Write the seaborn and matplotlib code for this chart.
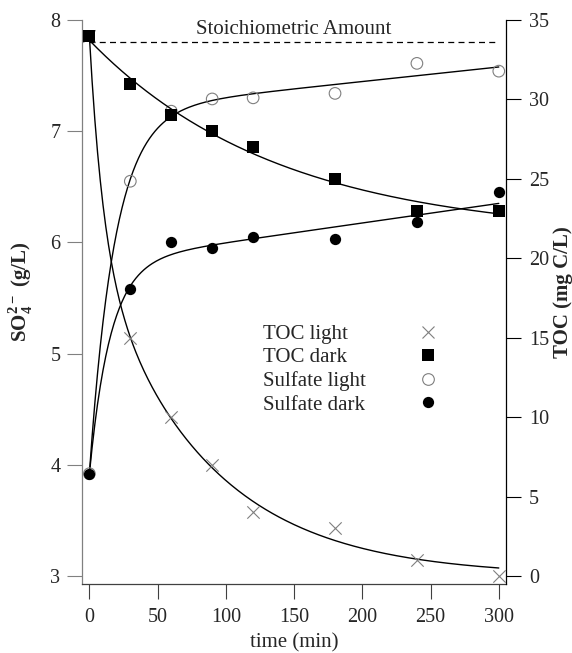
import numpy as np
import matplotlib
matplotlib.use("Agg")
import matplotlib.pyplot as plt
import seaborn as sns
from matplotlib.lines import Line2D

# Datos
tiempo = [0, 30, 60, 90, 120, 180, 240, 300]
toc_luz = [34.0, 15.0, 10.0, 7.0, 4.0, 3.0, 1.0, 0.0]
toc_oscuro = [34.0, 31.0, 29.0, 28.0, 27.0, 25.0, 23.0, 23.0]
sulfato_luz = [3.92, 6.55, 7.18, 7.29, 7.30, 7.34, 7.61, 7.54]
sulfato_oscuro = [3.92, 5.58, 6.00, 5.95, 6.05, 6.03, 6.18, 6.45]
estequiometrico = 7.8

nombres = ['TOC light', 'TOC dark', 'Sulfate light', 'Sulfate dark']
ticks_x = [0, 50, 100, 150, 200, 250, 300]
ticks_so4 = [3, 4, 5, 6, 7, 8]
ticks_toc = [0, 5, 10, 15, 20, 25, 30, 35]


def ajustar(t, y, base, rejilla):
    """Ajuste por minimos cuadrados (busqueda en rejilla para las constantes)"""
    t = np.asarray(t, float)
    y = np.asarray(y, float)
    mejor = None
    for k in rejilla:
        A = base(t, k)
        coef, *_ = np.linalg.lstsq(A, y, rcond=None)
        err = np.sum((A @ coef - y) ** 2)
        if mejor is None or err < mejor[0]:
            mejor = (err, k, coef)
    _, k, coef = mejor
    return lambda tt: base(np.asarray(tt, float), k) @ coef


def base_decaimiento_doble(t, k):
    return np.column_stack([np.exp(-k[0] * t), np.exp(-k[1] * t)])


def base_decaimiento(t, k):
    return np.column_stack([np.ones_like(t), np.exp(-k * t)])


def base_subida(t, k):
    return np.column_stack([np.ones_like(t), 1 - np.exp(-k * t), t])


def main():
    sns.set_style('ticks')
    plt.rcParams['font.family'] = ['Liberation Serif', 'DejaVu Serif']
    plt.rcParams['mathtext.fontset'] = 'custom'
    plt.rcParams['mathtext.rm'] = 'Liberation Serif'
    plt.rcParams['mathtext.bf'] = 'Liberation Serif:bold'

    fig = plt.figure(figsize=(5.72, 6.53), dpi=100)
    ax = fig.add_axes([82 / 572, 1 - 584 / 653, 424.3 / 572, 564 / 653])
    ax2 = ax.twinx()

    # curvas ajustadas
    rejilla_doble = [(k1, k2) for k1 in np.geomspace(0.03, 0.3, 50)
                     for k2 in np.geomspace(0.002, 0.03, 50)]
    f_toc_luz = ajustar(tiempo, toc_luz, base_decaimiento_doble, rejilla_doble)
    f_toc_osc = ajustar(tiempo, toc_oscuro, base_decaimiento, np.geomspace(0.001, 0.1, 300))
    f_sul_luz = ajustar(tiempo, sulfato_luz, base_subida, np.geomspace(0.005, 0.5, 300))
    f_sul_osc = ajustar(tiempo, sulfato_oscuro, base_subida, np.geomspace(0.005, 0.5, 300))

    t_fino = np.linspace(tiempo[0], tiempo[-1], 301)
    for f, eje in [(f_sul_luz, ax), (f_sul_osc, ax), (f_toc_luz, ax2), (f_toc_osc, ax2)]:
        sns.lineplot(x=t_fino, y=f(t_fino), ax=eje, color='black', lw=1.0)

    # linea estequiometrica
    sns.lineplot(x=[tiempo[0], tiempo[-1]], y=[estequiometrico] * 2, ax=ax,
                 color='black', lw=0.9, linestyle=(0, (4.8, 3.4)))
    ax.text(np.mean([tiempo[0], tiempo[-1]]), 7.875, 'Stoichiometric Amount',
            ha='center', va='baseline', fontsize=15)

    # puntos
    gris = '#7f7f7f'
    sns.scatterplot(x=tiempo, y=sulfato_luz, ax=ax, marker='o', s=70,
                    facecolor='none', edgecolor=gris, linewidth=0.8, zorder=4)
    sns.scatterplot(x=tiempo, y=sulfato_oscuro, ax=ax, marker='o', s=66,
                    color='black', edgecolor='black', linewidth=0, zorder=4)
    sns.scatterplot(x=tiempo, y=toc_luz, ax=ax2, marker='x', s=79,
                    color=gris, linewidth=0.8, zorder=4)
    sns.scatterplot(x=tiempo, y=toc_oscuro, ax=ax2, marker='s', s=70,
                    color='black', edgecolor='black', linewidth=0, zorder=4)

    # ejes
    ax.set_xlim(-5.4, 305.5)
    ax.set_ylim(2.928, 8.0)
    ax2.set_ylim((2.928 - 3) * 7, 35)
    ax.set_xticks(ticks_x)
    ax.set_yticks(ticks_so4)
    ax2.set_yticks(ticks_toc)

    ax.spines['top'].set_visible(False)
    ax.spines['right'].set_visible(False)
    ax2.spines['top'].set_visible(False)
    ax2.spines['left'].set_visible(False)
    ax2.spines['bottom'].set_visible(False)
    ax.spines['left'].set_color('#808080')
    ax.spines['bottom'].set_color('#404040')
    ax2.spines['right'].set_color('black')
    for s in ['left', 'bottom']:
        ax.spines[s].set_linewidth(0.9)
    ax2.spines['right'].set_linewidth(0.9)

    ax.tick_params(axis='y', direction='out', length=10.5, width=0.8,
                   color='#808080', labelsize=14.5, pad=5)
    ax.tick_params(axis='x', direction='out', length=10.5, width=0.8,
                   color='#404040', labelsize=14.5, pad=7)
    ax2.tick_params(axis='y', direction='out', length=10.5, width=0.8,
                    color='black', labelsize=14.5, pad=6)

    ax.set_xlabel('time (min)', fontsize=15)
    ax.set_ylabel(r'SO$_{\mathbf{4}}^{\mathbf{2-}}$ (g/L)', fontsize=15, fontweight='bold')
    ax2.set_ylabel('TOC (mg C/L)', fontsize=15, fontweight='bold')
    ax.xaxis.set_label_coords(0.5, -0.088)
    ax.yaxis.set_label_coords(-0.1108, 0.518)
    ax2.yaxis.set_label_coords(1.109, 0.518)

    # leyenda: textos y marcadores en dos columnas
    vacios = [Line2D([], [], linestyle='none') for _ in nombres]
    marcas = [
        Line2D([], [], linestyle='none', marker='x', color=gris, markersize=8.9, markeredgewidth=0.8),
        Line2D([], [], linestyle='none', marker='s', color='black', markersize=8.4, markeredgewidth=0),
        Line2D([], [], linestyle='none', marker='o', markerfacecolor='none', markeredgecolor=gris,
               markersize=8.4, markeredgewidth=0.8),
        Line2D([], [], linestyle='none', marker='o', color='black', markersize=8.1, markeredgewidth=0),
    ]
    ley1 = ax2.legend(vacios, nombres, loc='center left', bbox_to_anchor=(0.4266, 0.3804),
                      frameon=False, fontsize=15, labelspacing=0.19, borderpad=0,
                      borderaxespad=0, handlelength=0, handletextpad=0)
    ax2.add_artist(ley1)
    ax2.legend(marcas, [''] * len(nombres), loc='center', bbox_to_anchor=(0.8155, 0.3804),
               frameon=False, fontsize=15, labelspacing=0.19, borderpad=0,
               borderaxespad=0, handlelength=1, handletextpad=0)

    fig.savefig('out.png', dpi=100)


if __name__ == "__main__":
    main()
